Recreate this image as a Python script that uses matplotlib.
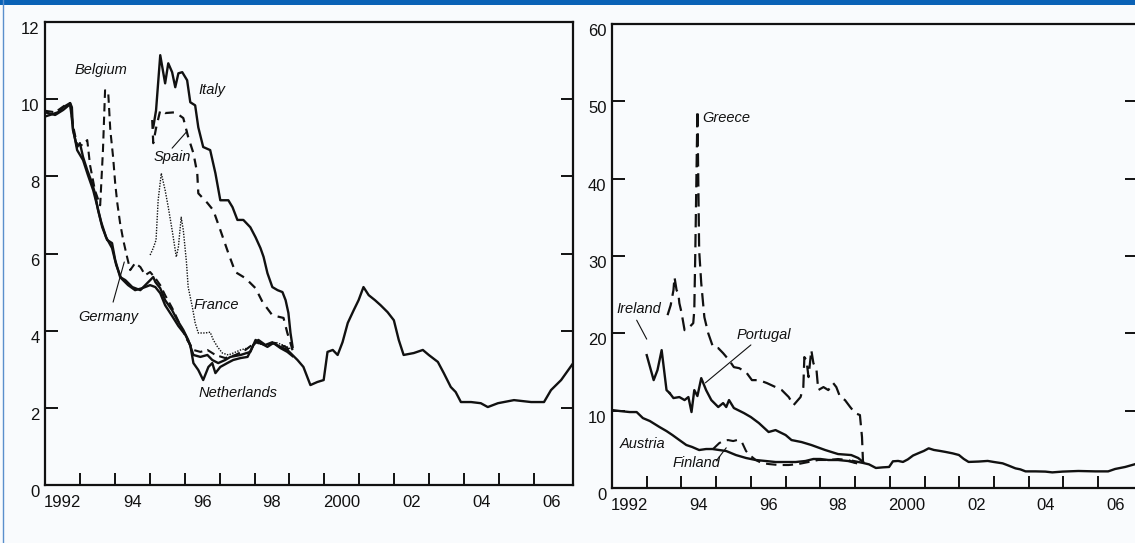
import matplotlib
matplotlib.use('Agg')
import matplotlib.pyplot as plt
from matplotlib.patches import Rectangle
from matplotlib.lines import Line2D

plt.rcParams['font.family'] = ['Liberation Sans Narrow', 'Liberation Sans', 'DejaVu Sans']

# ---- left panel: core countries (per cent) ----
germany_x = [1992.00, 1992.14, 1992.37, 1992.52, 1992.72, 1992.77, 1992.80, 1992.92, 1993.00, 1993.09,
             1993.21, 1993.35, 1993.43, 1993.52, 1993.64, 1993.78, 1993.92, 1994.01, 1994.15, 1994.30,
             1994.50, 1994.73, 1995.10, 1995.16, 1995.30, 1995.44, 1995.64, 1995.79, 1995.96, 1996.10,
             1996.25, 1996.45, 1996.65, 1996.79, 1996.96, 1997.16, 1997.31, 1997.60, 1997.88, 1998.03,
             1998.17, 1998.37, 1998.54, 1998.74, 1998.94]
germany_y = [9.55, 9.59, 9.66, 9.79, 9.90, 9.79, 9.20, 8.76, 8.86, 8.50,
             8.16, 7.82, 7.56, 7.12, 6.68, 6.35, 6.27, 5.83, 5.39, 5.31,
             5.13, 5.05, 5.39, 5.26, 5.10, 4.79, 4.53, 4.27, 4.02, 3.76,
             3.37, 3.32, 3.37, 3.24, 3.16, 3.24, 3.32, 3.37, 3.45, 3.76,
             3.68, 3.58, 3.68, 3.58, 3.50]

netherlands_x = [1992.00, 1992.29, 1992.52, 1992.72, 1992.80, 1992.92, 1993.09, 1993.23, 1993.38, 1993.49,
                 1993.61, 1993.75, 1993.92, 1994.04, 1994.18, 1994.38, 1994.58, 1994.78, 1995.01, 1995.16,
                 1995.30, 1995.44, 1995.64, 1995.82, 1996.02, 1996.16, 1996.25, 1996.39, 1996.53, 1996.68,
                 1996.79, 1996.88, 1997.02, 1997.22, 1997.39, 1997.60, 1997.80, 1997.97, 1998.11, 1998.31,
                 1998.51, 1998.74, 1998.94, 1999.09]
netherlands_y = [9.66, 9.59, 9.72, 9.87, 9.25, 8.68, 8.42, 8.03, 7.64, 7.25,
                 6.81, 6.42, 6.14, 5.70, 5.36, 5.18, 5.05, 5.10, 5.18, 5.13,
                 4.97, 4.66, 4.38, 4.12, 3.89, 3.63, 3.16, 2.98, 2.72, 3.06,
                 3.16, 2.90, 3.06, 3.16, 3.24, 3.29, 3.32, 3.63, 3.76, 3.63,
                 3.70, 3.55, 3.45, 3.34]

belgium_x = [1992.00, 1992.29, 1992.57, 1992.72, 1992.80, 1992.92, 1993.09, 1993.21, 1993.29, 1993.43,
             1993.58, 1993.66, 1993.72, 1993.81, 1993.87, 1993.95, 1994.01, 1994.07, 1994.15, 1994.24,
             1994.35, 1994.44, 1994.58, 1994.73, 1994.87, 1995.01, 1995.16, 1995.30, 1995.44, 1995.64,
             1995.87, 1996.07, 1996.25, 1996.45, 1996.65, 1996.88, 1997.16, 1997.45, 1997.74, 1998.03,
             1998.31, 1998.60, 1998.89, 1999.09]
belgium_y = [9.70, 9.66, 9.84, 9.90, 9.33, 8.81, 8.81, 8.94, 8.29, 7.64,
             7.25, 8.68, 10.23, 10.18, 9.20, 8.50, 7.82, 7.31, 6.79, 6.35,
             5.91, 5.57, 5.75, 5.65, 5.44, 5.52, 5.36, 5.18, 4.92, 4.59,
             4.15, 3.76, 3.50, 3.45, 3.50, 3.37, 3.29, 3.37, 3.50, 3.70,
             3.63, 3.68, 3.58, 3.45]

italy_x = [1995.10, 1995.18, 1995.30, 1995.44, 1995.53, 1995.64, 1995.73, 1995.82, 1995.93, 1996.07,
           1996.16, 1996.30, 1996.39, 1996.53, 1996.73, 1996.88, 1997.02, 1997.25, 1997.37, 1997.51,
           1997.68, 1997.88, 1998.03, 1998.17, 1998.26, 1998.37, 1998.51, 1998.66, 1998.80, 1998.89,
           1998.97, 1999.03, 1999.09]
italy_y = [9.27, 9.71, 11.14, 10.41, 10.93, 10.70, 10.31, 10.67, 10.70, 10.49,
           9.92, 9.84, 9.27, 8.76, 8.68, 8.08, 7.38, 7.38, 7.20, 6.87,
           6.87, 6.68, 6.42, 6.14, 5.91, 5.49, 5.13, 5.05, 5.00, 4.79,
           4.46, 3.94, 3.58]

spain_x = [1995.07, 1995.10, 1995.18, 1995.30, 1995.44, 1995.73, 1995.96, 1996.10, 1996.25, 1996.36,
           1996.39, 1996.65, 1996.82, 1997.02, 1997.25, 1997.45, 1997.74, 1998.03, 1998.23, 1998.51,
           1998.83, 1998.94, 1999.09]
spain_y = [9.46, 8.86, 9.25, 9.71, 9.64, 9.66, 9.51, 9.02, 8.60, 8.08,
           7.56, 7.31, 7.12, 6.61, 6.01, 5.52, 5.36, 5.10, 4.74, 4.40,
           4.33, 3.94, 3.50]

france_x = [1995.01, 1995.10, 1995.18, 1995.24, 1995.33, 1995.44, 1995.53, 1995.64, 1995.76, 1995.82,
            1995.90, 1995.96, 1996.05, 1996.10, 1996.22, 1996.30, 1996.39, 1996.59, 1996.73, 1996.82,
            1996.94, 1997.08, 1997.25, 1997.39, 1997.60, 1997.80, 1998.03, 1998.31, 1998.60, 1998.89,
            1999.09]
france_y = [5.96, 6.14, 6.35, 7.38, 8.08, 7.64, 7.20, 6.61, 5.91, 6.17,
            6.94, 6.61, 5.78, 5.13, 4.61, 4.20, 3.94, 3.94, 3.96, 3.76,
            3.58, 3.42, 3.37, 3.42, 3.50, 3.55, 3.68, 3.63, 3.70, 3.60,
            3.50]

# ---- common euro area rate (both panels) ----
euro_x = [1998.94, 1999.03, 1999.23, 1999.40, 1999.60, 1999.80, 1999.98, 2000.09, 2000.24, 2000.38,
          2000.52, 2000.67, 2000.84, 2000.98, 2001.12, 2001.27, 2001.45, 2001.61, 2001.81, 2001.99,
          2002.13, 2002.27, 2002.56, 2002.82, 2002.99, 2003.25, 2003.42, 2003.62, 2003.76, 2003.91,
          2004.20, 2004.48, 2004.68, 2004.97, 2005.43, 2005.92, 2006.29, 2006.49, 2006.78, 2007.15]
euro_y = [3.50, 3.42, 3.24, 3.06, 2.59, 2.67, 2.72, 3.45, 3.50, 3.37,
          3.70, 4.20, 4.53, 4.79, 5.13, 4.92, 4.79, 4.66, 4.48, 4.27,
          3.76, 3.37, 3.42, 3.50, 3.37, 3.19, 2.90, 2.54, 2.41, 2.15,
          2.15, 2.12, 2.02, 2.12, 2.20, 2.15, 2.15, 2.46, 2.72, 3.19]

# ---- right panel: periphery ----
austria_x = [1992.00, 1992.23, 1992.51, 1992.71, 1992.89, 1993.09, 1993.37, 1993.57, 1993.74, 1993.94,
             1994.14, 1994.31, 1994.51, 1994.71, 1994.89, 1995.09, 1995.29, 1995.57, 1995.86, 1996.14,
             1996.43, 1996.71, 1997.00, 1997.29, 1997.57, 1997.80, 1998.00, 1998.23, 1998.51, 1998.80,
             1999.03]
austria_y = [10.08, 9.95, 9.82, 9.82, 9.04, 8.66, 7.88, 7.36, 6.85, 6.20,
             5.56, 5.30, 4.91, 5.04, 5.04, 4.91, 4.78, 4.26, 3.88, 3.62,
             3.49, 3.36, 3.36, 3.36, 3.49, 3.75, 3.75, 3.62, 3.62, 3.49,
             3.23]

finland_x = [1994.91, 1995.09, 1995.20, 1995.34, 1995.49, 1995.60, 1995.74, 1995.86, 1996.00, 1996.14,
             1996.31, 1996.51, 1996.80, 1997.09, 1997.37, 1997.66, 1997.94, 1998.23, 1998.51, 1998.80,
             1999.03]
finland_y = [5.04, 5.81, 6.07, 6.20, 6.07, 6.20, 5.94, 4.78, 4.13, 3.62,
             3.23, 3.10, 2.97, 2.97, 3.10, 3.36, 3.62, 3.62, 3.75, 3.62,
             3.23]

ireland_x = [1993.00, 1993.20, 1993.31, 1993.43, 1993.57, 1993.66]
ireland_y = [17.18, 13.95, 15.25, 17.83, 12.66, 12.27]

portugal_x = [1993.66, 1993.77, 1993.94, 1994.09, 1994.20, 1994.29, 1994.37, 1994.46, 1994.57, 1994.71,
              1994.86, 1995.06, 1995.20, 1995.29, 1995.37, 1995.51, 1995.80, 1996.00, 1996.23, 1996.51,
              1996.71, 1997.00, 1997.17, 1997.46, 1997.74, 1998.14, 1998.51, 1998.89, 1999.09, 1999.23]
portugal_y = [12.27, 11.63, 11.76, 11.37, 11.76, 9.82, 12.66, 11.89, 14.21, 12.66,
              11.37, 10.47, 10.98, 10.47, 11.37, 10.34, 9.69, 9.17, 8.40, 7.24,
              7.49, 6.85, 6.20, 5.94, 5.56, 4.91, 4.39, 4.26, 3.88, 3.36]

greece_x = [1993.60, 1993.69, 1993.77, 1993.80, 1993.86, 1993.91, 1993.94, 1994.00, 1994.09, 1994.23,
            1994.34, 1994.37, 1994.40, 1994.46, 1994.51, 1994.57, 1994.66, 1994.77, 1994.91, 1995.06,
            1995.20, 1995.37, 1995.51, 1995.66, 1995.86, 1996.03, 1996.23, 1996.46, 1996.71, 1996.89,
            1997.09, 1997.23, 1997.43, 1997.51, 1997.54, 1997.60, 1997.66, 1997.74, 1997.80, 1997.89,
            1997.94, 1998.09, 1998.23, 1998.37, 1998.46, 1998.57, 1998.71, 1998.86, 1999.00, 1999.14,
            1999.20, 1999.23]
greece_y = [22.35, 23.64, 25.58, 27.26, 25.58, 25.19, 23.90, 22.74, 20.41, 20.80,
            21.32, 23.00, 30.75, 48.84, 30.75, 26.49, 22.09, 20.03, 18.22, 18.09,
            17.44, 16.54, 15.63, 15.50, 14.99, 13.95, 13.95, 13.57, 13.05, 12.66,
            11.76, 10.72, 11.76, 13.05, 16.93, 16.54, 14.34, 17.83, 16.15, 15.25,
            12.66, 13.05, 12.66, 13.57, 13.05, 11.76, 11.37, 10.47, 9.69, 9.43,
            6.59, 3.23]

year_ticks = list(range(1993, 2007))
label_pos = [1992.5, 1994.5, 1996.5, 1998.5, 2000.5, 2002.5, 2004.5, 2006.5]
label_txt = ['1992', '94', '96', '98', '2000', '02', '04', '06']

W, H = 1135, 543
fig = plt.figure(figsize=(W / 100, H / 100), dpi=100)
bg = '#f9fbfd'
fig.patch.set_facecolor(bg)

ax1 = fig.add_axes([45 / W, (H - 485) / H, (573 - 45) / W, (485 - 22) / H])
ax2 = fig.add_axes([612 / W, (H - 488) / H, (1137 - 612) / W, (488 - 24) / H])

ink = '#111111'
solid = dict(color=ink, lw=1.7, solid_joinstyle='round')
ax1.plot(germany_x, germany_y, **solid)
ax1.plot(netherlands_x, netherlands_y, **solid)
ax1.plot(belgium_x, belgium_y, color=ink, lw=1.5, linestyle=(0, (4, 2.5)))
ax1.plot(italy_x, italy_y, **solid)
ax1.plot(spain_x, spain_y, color=ink, lw=1.6, linestyle=(0, (4, 3)))
ax1.plot(france_x, france_y, color=ink, lw=1.0, linestyle=(0, (1, 1)))
ax1.plot(euro_x, euro_y, **solid)

ax2.plot(austria_x, austria_y, **solid)
ax2.plot(finland_x, finland_y, color=ink, lw=1.5, linestyle=(0, (5, 3)))
ax2.plot(ireland_x, ireland_y, **solid)
ax2.plot(portugal_x, portugal_y, **solid)
ax2.plot(greece_x, greece_y, color=ink, lw=1.6, linestyle=(0, (6, 3)))
ax2.plot(euro_x, euro_y, **solid)

for ax, ymax, step in [(ax1, 12, 2), (ax2, 60, 10)]:
    ax.set_facecolor(bg)
    ax.set_xlim(1992, 2007.12)
    ax.set_ylim(0, ymax)
    for s in ax.spines.values():
        s.set_linewidth(1.6)
        s.set_color(ink)
    ax.set_xticks(year_ticks)
    ax.set_xticklabels([])
    ax.set_xticks(label_pos, minor=True)
    ax.set_xticklabels(label_txt, minor=True)
    ax.tick_params(axis='x', which='major', direction='in', length=9, width=1.4, color=ink)
    ax.tick_params(axis='x', which='minor', length=0, pad=7, labelsize=12, labelcolor=ink)
    ax.set_yticks(range(0, ymax + 1, step))
    ax.tick_params(axis='y', direction='in', length=9, width=1.4, color=ink,
                   left=True, right=True, labelsize=12, labelcolor=ink, pad=4)
    for lab in ax.get_yticklabels():
        lab.set_verticalalignment('top')

lab_font = dict(fontsize=10.5, fontstyle='italic', color=ink)
lead = dict(arrowstyle='-', lw=0.8, color=ink, shrinkA=0, shrinkB=0)

ax1.text(1993.61, 10.75, 'Belgium', ha='center', va='center', **lab_font)
ax1.text(1996.79, 10.23, 'Italy', ha='center', va='center', **lab_font)
ax1.text(1995.64, 8.50, 'Spain', ha='center', va='center', **lab_font)
ax1.annotate('', xy=(1996.07, 9.17), xytext=(1995.64, 8.73), arrowprops=lead)
ax1.text(1996.91, 4.66, 'France', ha='center', va='center', **lab_font)
ax1.text(1993.81, 4.35, 'Germany', ha='center', va='center', **lab_font)
ax1.annotate('', xy=(1994.27, 5.78), xytext=(1993.95, 4.74), arrowprops=lead)
ax1.text(1997.54, 2.38, 'Netherlands', ha='center', va='center', **lab_font)

ax2.text(1994.60, 47.8, 'Greece', ha='left', va='center', **lab_font)
ax2.text(1992.77, 23.1, 'Ireland', ha='center', va='center', **lab_font)
ax2.annotate('', xy=(1993.0, 19.25), xytext=(1992.71, 21.7), arrowprops=lead)
ax2.text(1996.37, 19.8, 'Portugal', ha='center', va='center', **lab_font)
ax2.annotate('', xy=(1994.69, 13.6), xytext=(1996.0, 18.5), arrowprops=lead)
ax2.text(1992.89, 5.7, 'Austria', ha='center', va='center', **lab_font)
ax2.text(1994.43, 3.2, 'Finland', ha='center', va='center', **lab_font)
ax2.annotate('', xy=(1995.29, 5.2), xytext=(1995.0, 3.5), arrowprops=lead)

# blue frame bits
fig.patches.append(Rectangle((0, 1 - 4.5 / H), 1, 4.5 / H, transform=fig.transFigure,
                             facecolor='#0a62b6', edgecolor='none'))
fig.lines.append(Line2D([3.2 / W, 3.2 / W], [0, 1], transform=fig.transFigure,
                        color='#5a8fcc', lw=1.0))

fig.savefig('out.png', dpi=100, facecolor=bg)
